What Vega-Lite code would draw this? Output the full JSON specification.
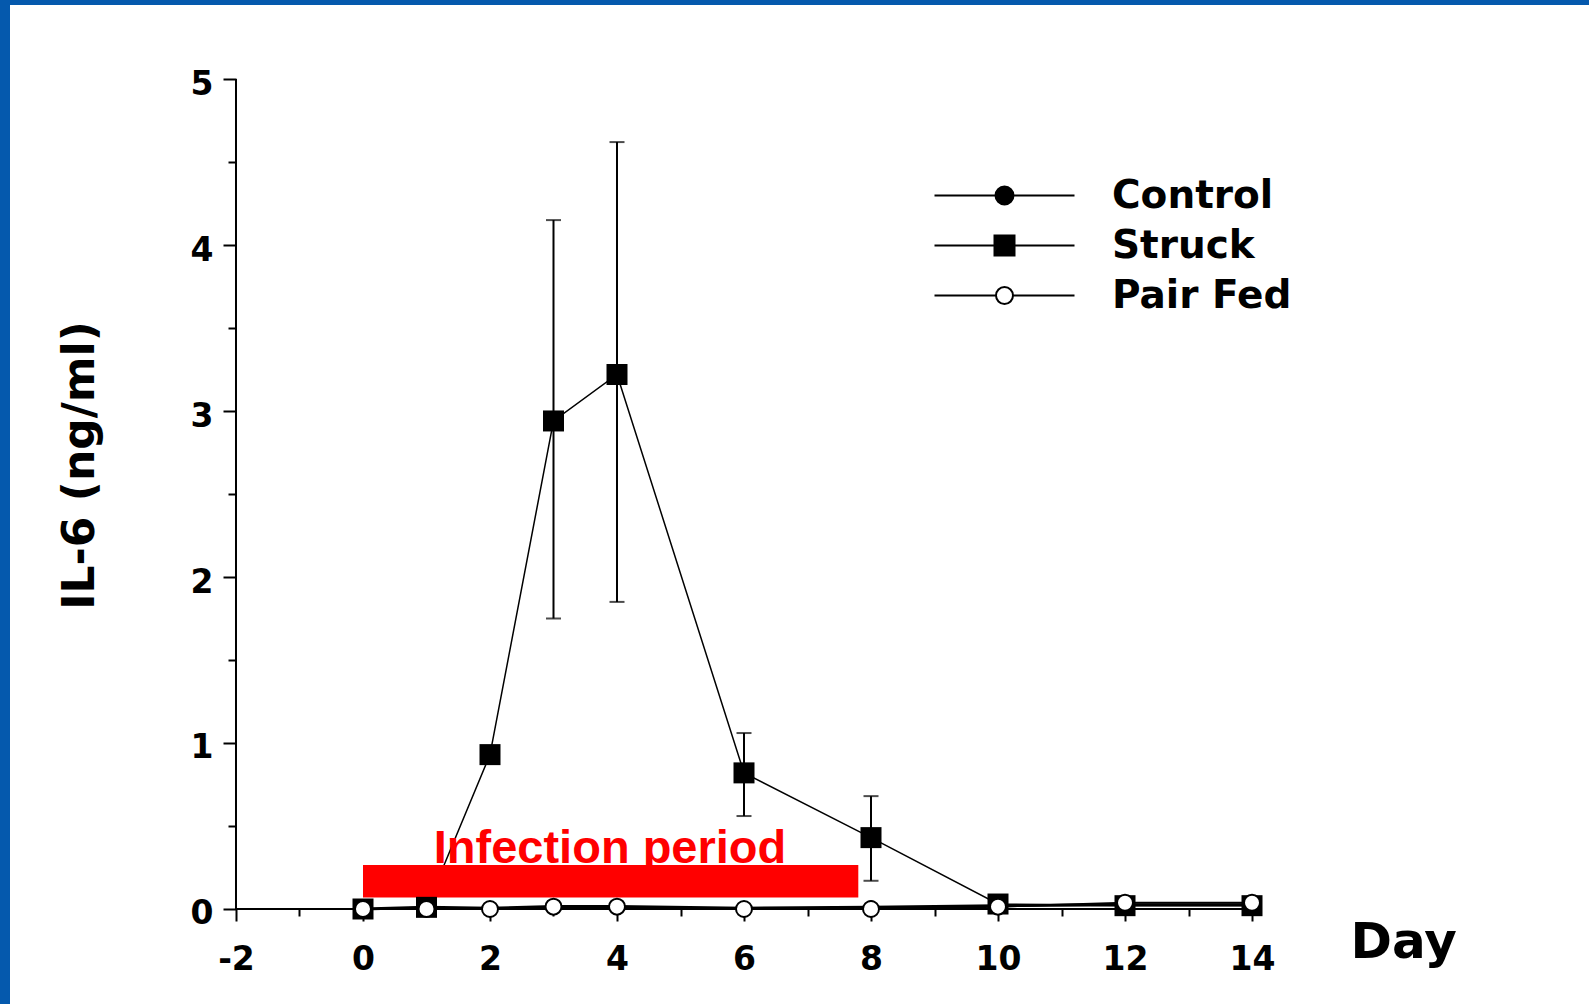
{
  "$schema": "https://vega.github.io/schema/vega-lite/v6.json",
  "width": 1579,
  "height": 999,
  "autosize": {"type": "none"},
  "padding": {"left": 10, "top": 5, "right": 0, "bottom": 0},
  "background": "#0559ad",
  "config": {
    "font": "DejaVu Sans",
    "view": {"fill": "white", "stroke": null}
  },
  "data": {
    "values": [
      {"day": 0, "series": "Control", "il6": 0},
      {"day": 1, "series": "Control", "il6": 0.01},
      {"day": 2, "series": "Control", "il6": 0.005},
      {"day": 3, "series": "Control", "il6": 0.015},
      {"day": 4, "series": "Control", "il6": 0.015},
      {"day": 6, "series": "Control", "il6": 0.005},
      {"day": 8, "series": "Control", "il6": 0.01},
      {"day": 10, "series": "Control", "il6": 0.02},
      {"day": 12, "series": "Control", "il6": 0.025},
      {"day": 14, "series": "Control", "il6": 0.025},
      {"day": 0, "series": "Struck", "il6": 0},
      {"day": 1, "series": "Struck", "il6": 0.01},
      {"day": 2, "series": "Struck", "il6": 0.93},
      {"day": 3, "series": "Struck", "il6": 2.94, "lo": 1.75, "hi": 4.15},
      {"day": 4, "series": "Struck", "il6": 3.22, "lo": 1.85, "hi": 4.62},
      {"day": 6, "series": "Struck", "il6": 0.82, "lo": 0.56, "hi": 1.06},
      {"day": 8, "series": "Struck", "il6": 0.43, "lo": 0.17, "hi": 0.68},
      {"day": 10, "series": "Struck", "il6": 0.03},
      {"day": 12, "series": "Struck", "il6": 0.02},
      {"day": 14, "series": "Struck", "il6": 0.02},
      {"day": 0, "series": "Pair Fed", "il6": 0},
      {"day": 1, "series": "Pair Fed", "il6": 0},
      {"day": 2, "series": "Pair Fed", "il6": 0},
      {"day": 3, "series": "Pair Fed", "il6": 0.014},
      {"day": 4, "series": "Pair Fed", "il6": 0.014},
      {"day": 6, "series": "Pair Fed", "il6": 0},
      {"day": 8, "series": "Pair Fed", "il6": 0},
      {"day": 10, "series": "Pair Fed", "il6": 0.014},
      {"day": 12, "series": "Pair Fed", "il6": 0.038},
      {"day": 14, "series": "Pair Fed", "il6": 0.038}
    ]
  },
  "encoding": {
    "x": {
      "field": "day", "type": "quantitative",
      "scale": {"domain": [-5.559, 19.307], "nice": false, "zero": false},
      "axis": {
        "orient": "bottom", "offset": -95,
        "values": [-2, -1, 0, 1, 2, 3, 4, 5, 6, 7, 8, 9, 10, 11, 12, 13, 14],
        "domain": false, "grid": false,
        "tickColor": "black", "tickWidth": 2,
        "tickSize": {"condition": {"test": "datum.value % 2 === 0", "value": 12}, "value": 7},
        "labelExpr": "datum.value % 2 === 0 ? '' + datum.value : ''",
        "labelFont": "DejaVu Sans", "labelFontWeight": "bold", "labelFontSize": 33,
        "labelColor": "black", "labelPadding": 22, "labelFlush": false, "labelOverlap": false, "labelBound": false,
        "title": "Day", "titleFont": "DejaVu Sans", "titleFontSize": 50, "titleFontWeight": "bold",
        "titleColor": "black", "titleX": 1340, "titleY": 48, "titleAlign": "left", "titleBaseline": "alphabetic"
      }
    },
    "y": {
      "field": "il6", "type": "quantitative",
      "scale": {"domain": [-0.5723, 5.4458], "nice": false, "zero": false},
      "axis": {
        "orient": "left", "offset": -226,
        "values": [0, 0.5, 1, 1.5, 2, 2.5, 3, 3.5, 4, 4.5, 5],
        "domain": false, "grid": false,
        "tickColor": "black", "tickWidth": 2,
        "tickSize": {"condition": {"test": "datum.value % 1 === 0", "value": 13}, "value": 8},
        "labelExpr": "datum.value % 1 === 0 ? '' + datum.value : ''",
        "labelFont": "DejaVu Sans", "labelFontWeight": "bold", "labelFontSize": 33,
        "labelColor": "black", "labelPadding": 10, "labelOffset": 5, "labelFlush": false, "labelOverlap": false, "labelBound": false,
        "title": "IL-6 (ng/ml)", "titleFont": "DejaVu Sans", "titleFontSize": 44, "titleFontWeight": "bold",
        "titleColor": "black", "titleX": -143, "titleY": 460, "titleAlign": "center", "titleBaseline": "alphabetic", "titleAngle": -90
      }
    }
  },
  "layer": [
    {
      "transform": [{"filter": "datum.series === 'Control' && datum.day === 0"}],
      "mark": {"type": "rule", "color": "black", "strokeWidth": 2},
      "encoding": {
        "x": {"datum": -2, "type": "quantitative"},
        "x2": {"datum": 14.14},
        "y": {"datum": 0, "type": "quantitative"}
      }
    },
    {
      "transform": [{"filter": "datum.series === 'Control' && datum.day === 0"}],
      "mark": {"type": "rule", "color": "black", "strokeWidth": 2},
      "encoding": {
        "x": {"datum": -2, "type": "quantitative"},
        "y": {"datum": 0, "type": "quantitative"},
        "y2": {"datum": 5}
      }
    },
    {
      "transform": [{"filter": "datum.series === 'Control'"}],
      "mark": {"type": "line", "color": "black", "strokeWidth": 3}
    },
    {
      "transform": [{"filter": "datum.series === 'Pair Fed'"}],
      "mark": {"type": "line", "color": "black", "strokeWidth": 2}
    },
    {
      "transform": [{"filter": "datum.series === 'Struck'"}],
      "mark": {"type": "line", "color": "black", "strokeWidth": 1.5}
    },
    {
      "transform": [{"filter": "datum.series === 'Control' && datum.day === 0"}],
      "mark": {"type": "text", "text": "Infection period", "font": "Liberation Sans", "fontWeight": "bold", "fontSize": 47, "color": "#ff0000", "align": "center", "baseline": "alphabetic"},
      "encoding": {
        "x": {"datum": 3.89, "type": "quantitative"},
        "y": {"datum": 0.277, "type": "quantitative"}
      }
    },
    {
      "transform": [{"filter": "datum.series === 'Control' && datum.day === 0"}],
      "mark": {"type": "rect", "color": "#ff0000"},
      "encoding": {
        "x": {"datum": 0, "type": "quantitative"},
        "x2": {"datum": 7.8},
        "y": {"datum": 0.07, "type": "quantitative"},
        "y2": {"datum": 0.265}
      }
    },
    {
      "transform": [{"filter": "isValid(datum.lo)"}],
      "mark": {"type": "rule", "color": "black", "strokeWidth": 2},
      "encoding": {
        "y": {"field": "lo", "type": "quantitative"},
        "y2": {"field": "hi"}
      }
    },
    {
      "transform": [{"filter": "isValid(datum.lo)"}],
      "mark": {"type": "tick", "color": "black", "orient": "horizontal", "size": 15, "thickness": 2},
      "encoding": {"y": {"field": "lo", "type": "quantitative"}}
    },
    {
      "transform": [{"filter": "isValid(datum.hi)"}],
      "mark": {"type": "tick", "color": "black", "orient": "horizontal", "size": 15, "thickness": 2},
      "encoding": {"y": {"field": "hi", "type": "quantitative"}}
    },
    {
      "transform": [{"filter": "datum.series === 'Struck'"}],
      "mark": {"type": "point", "shape": "square", "filled": true, "color": "black", "size": 441, "opacity": 1}
    },
    {
      "transform": [{"filter": "datum.series === 'Control'"}],
      "mark": {"type": "point", "shape": "circle", "filled": true, "color": "black", "size": 196, "opacity": 1}
    },
    {
      "transform": [{"filter": "datum.series === 'Pair Fed'"}],
      "mark": {"type": "point", "shape": "circle", "fill": "white", "stroke": "black", "strokeWidth": 2, "size": 256, "opacity": 1}
    },
    {
      "mark": {"type": "point", "filled": true, "opacity": 0, "stroke": "black"},
      "encoding": {
        "shape": {
          "field": "series", "type": "nominal",
          "scale": {
            "domain": ["Control", "Struck", "Pair Fed"],
            "range": [
              "M-7,0H-0.9M0.9,0H7M-0.9,0A0.9,0.9,0,1,1,0.9,0A0.9,0.9,0,1,1,-0.9,0Z",
              "M-7,0H-1M1,0H7M-1,-1H1V1H-1Z",
              "M-7,0H-0.85M0.85,0H7M-0.85,0A0.85,0.85,0,1,1,0.85,0A0.85,0.85,0,1,1,-0.85,0Z"
            ]
          },
          "legend": {
            "orient": "none", "legendX": 975, "legendY": 171, "title": null, "padding": 0,
            "symbolSize": 400, "symbolStrokeWidth": 2, "symbolOpacity": 1,
            "labelFont": "DejaVu Sans", "labelFontWeight": "bold", "labelFontSize": 39, "labelColor": "black",
            "labelOffset": 88, "rowPadding": 10, "labelLimit": 400,
            "labelExpr": "datum.value === 'Pair Fed' ? '\u00a0Pair Fed' : datum.label",
            "encode": {
              "symbols": {"stroke": {"value": "black"}, "strokeWidth": {"value": 2}, "opacity": {"value": 1}},
              "labels": {"dy": {"value": 5}}
            }
          }
        },
        "fill": {
          "field": "series", "type": "nominal",
          "scale": {"domain": ["Control", "Struck", "Pair Fed"], "range": ["black", "black", "white"]},
          "legend": {
            "orient": "none", "legendX": 975, "legendY": 171, "title": null, "padding": 0,
            "symbolSize": 400, "symbolStrokeWidth": 2, "symbolOpacity": 1,
            "labelFont": "DejaVu Sans", "labelFontWeight": "bold", "labelFontSize": 39, "labelColor": "black",
            "labelOffset": 88, "rowPadding": 10, "labelLimit": 400,
            "labelExpr": "datum.value === 'Pair Fed' ? '\u00a0Pair Fed' : datum.label",
            "encode": {
              "symbols": {"stroke": {"value": "black"}, "strokeWidth": {"value": 2}, "opacity": {"value": 1}},
              "labels": {"dy": {"value": 5}}
            }
          }
        }
      }
    }
  ]
}
